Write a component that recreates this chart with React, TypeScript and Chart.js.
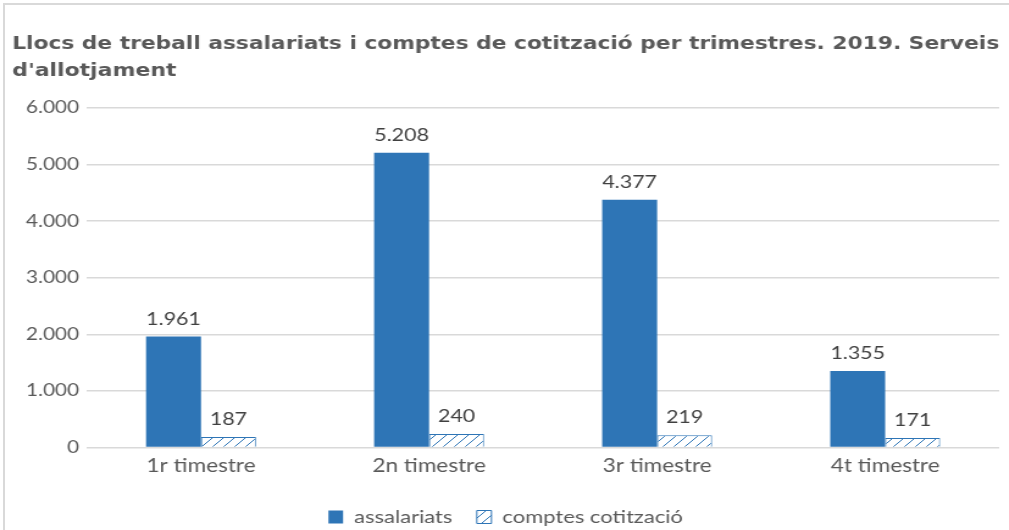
import React, { useEffect, useRef } from "react";
import { Chart, registerables } from "chart.js";
Chart.register(...registerables);

const categories = ["1r timestre", "2n timestre", "3r timestre", "4t timestre"];
const assalariats = [1961, 5208, 4377, 1355];
const comptesCotitzacio = [187, 240, 219, 171];
const seriesNames = ["assalariats", "comptes cotització"];
const titleLines = [
  "Llocs de treball assalariats i comptes de cotització per trimestres. 2019. Serveis",
  "d'allotjament",
];
const yMin = 0;
const yMax = 6000;
const yStep = 1000;

const STRETCH = 1.22;
const CANVAS_W = Math.round(1009 / STRETCH);
const CANVAS_H = 536;

const BLUE = "#2E75B6";
const TEXT = "#595959";
const LABEL = "#404040";
const GRID = "#d9d9d9";
const AXIS_FONT = "Lato, 'Open Sans', sans-serif";

function fmt(v: number): string {
  return Math.round(v).toString().replace(/\B(?=(\d{3})+(?!\d))/g, ".");
}

function makeHatch(): CanvasPattern | string {
  const n = 9;
  const c = document.createElement("canvas");
  c.width = n;
  c.height = n;
  const ctx = c.getContext("2d");
  if (!ctx) return "#fff";
  ctx.fillStyle = "#ffffff";
  ctx.fillRect(0, 0, n, n);
  ctx.strokeStyle = BLUE;
  ctx.lineWidth = 1;
  ctx.beginPath();
  ctx.moveTo(0, n);
  ctx.lineTo(n, 0);
  ctx.moveTo(-2, 2);
  ctx.lineTo(2, -2);
  ctx.moveTo(n - 2, n + 2);
  ctx.lineTo(n + 2, n - 2);
  ctx.stroke();
  return ctx.createPattern(c, "repeat") || "#fff";
}

const valueLabels = {
  id: "valueLabels",
  afterDatasetsDraw(chart: any) {
    const ctx = chart.ctx;
    ctx.save();
    ctx.font = `17.5px ${AXIS_FONT}`;
    ctx.fillStyle = LABEL;
    ctx.textAlign = "center";
    ctx.textBaseline = "alphabetic";
    chart.data.datasets.forEach((ds: any, i: number) => {
      const meta = chart.getDatasetMeta(i);
      meta.data.forEach((el: any, j: number) => {
        ctx.fillText(fmt(ds.data[j]), el.x, el.y - 12);
      });
    });
    ctx.restore();
  },
};

export default function App() {
  const ref = useRef<HTMLCanvasElement | null>(null);
  useEffect(() => {
    if (!ref.current) return;
    const hatch = makeHatch();
    const chart = new Chart(ref.current, {
      type: "bar",
      data: {
        labels: categories,
        datasets: [
          {
            label: seriesNames[0],
            data: assalariats,
            backgroundColor: BLUE,
            borderColor: BLUE,
            borderWidth: 0,
            categoryPercentage: 0.482,
            barPercentage: 1,
          },
          {
            label: seriesNames[1],
            data: comptesCotitzacio,
            backgroundColor: hatch as any,
            borderColor: BLUE,
            borderWidth: 1,
            categoryPercentage: 0.482,
            barPercentage: 1,
          },
        ],
      },
      options: {
        animation: false,
        responsive: false,
        maintainAspectRatio: false,
        layout: { padding: { left: 10, right: 8, top: 0, bottom: 0 } },
        plugins: {
          title: {
            display: true,
            text: titleLines,
            align: "start",
            color: TEXT,
            font: { family: "'DejaVu Sans', Verdana, sans-serif", size: 18, weight: "bold", lineHeight: 1.5 },
            padding: { top: 31, bottom: 23 },
          },
          legend: {
            position: "bottom",
            labels: {
              color: TEXT,
              font: { family: AXIS_FONT, size: 18 },
              boxWidth: 12,
              boxHeight: 13,
              padding: 20,
            },
          },
          tooltip: { enabled: false },
        },
        scales: {
          x: {
            grid: { display: false, drawTicks: false },
            border: { display: false },
            ticks: { color: TEXT, font: { family: AXIS_FONT, size: 18.5 }, padding: 7 },
            afterFit: (scale: any) => {
              scale.height = 40.4;
            },
          },
          y: {
            min: yMin,
            max: yMax,
            grid: { color: GRID, lineWidth: 1.5, drawTicks: false },
            border: { display: false },
            ticks: {
              stepSize: yStep,
              color: TEXT,
              font: { family: AXIS_FONT, size: 17 },
              padding: 6.5,
              callback: (v: any) => fmt(Number(v)),
            },
            afterFit: (scale: any) => {
              scale.width = 61.3;
            },
          },
        },
      },
      plugins: [valueLabels],
    });
    return () => chart.destroy();
  }, []);
  return (
    <div style={{ position: "fixed", left: 0, top: 0, width: 1009, height: 530, background: "#fff", overflow: "hidden" }}>
      <div
        style={{
          position: "absolute",
          left: 3,
          top: 3,
          width: 1100,
          height: 600,
          borderTop: `2px solid ${GRID}`,
          borderLeft: `2px solid ${GRID}`,
        }}
      />
      <div
        style={{
          position: "absolute",
          left: 0,
          top: 0,
          width: CANVAS_W,
          height: CANVAS_H,
          transform: `scaleX(${STRETCH})`,
          transformOrigin: "0 0",
        }}
      >
        <canvas ref={ref} width={CANVAS_W} height={CANVAS_H} style={{ display: "block" }} />
      </div>
    </div>
  );
}
